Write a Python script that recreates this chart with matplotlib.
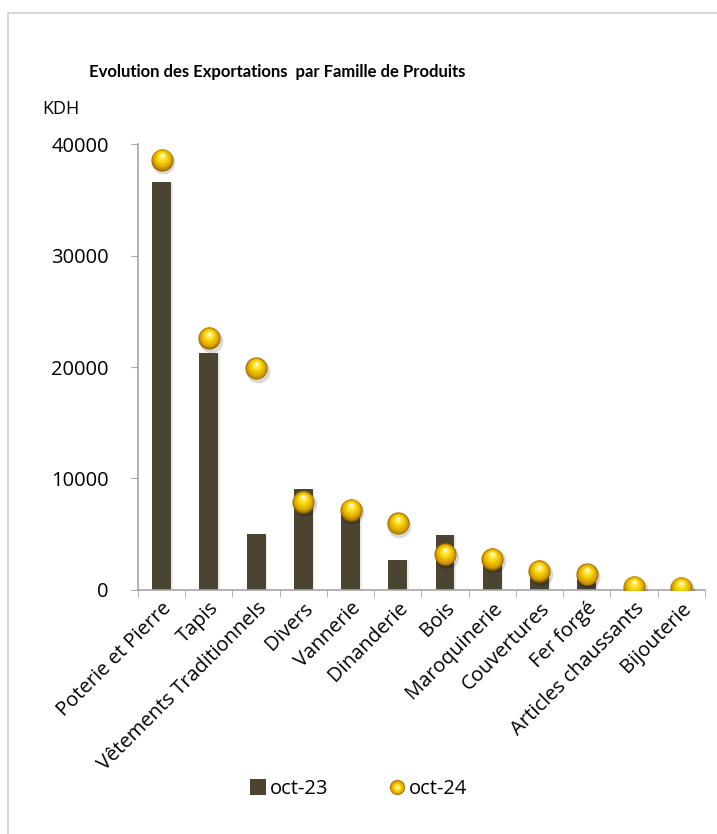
import matplotlib
matplotlib.use("Agg")
import matplotlib.pyplot as plt
import matplotlib.transforms as mtransforms
from matplotlib.lines import Line2D
from matplotlib.legend_handler import HandlerTuple
from matplotlib.patches import Rectangle
import numpy as np

plt.rcParams['font.family'] = ['Open Sans', 'DejaVu Sans']

categories = ["Poterie et Pierre", "Tapis", "Vêtements Traditionnels", "Divers",
              "Vannerie", "Dinanderie", "Bois", "Maroquinerie", "Couvertures",
              "Fer forgé", "Articles chaussants", "Bijouterie"]
oct23 = [36600, 21300, 5000, 9100, 7000, 2700, 4900, 2500, 1300, 1000, 150, 100]
oct24 = [38600, 22600, 19900, 7900, 7200, 6000, 3200, 2800, 1700, 1400, 300, 200]
yticks = [0, 10000, 20000, 30000, 40000]

bar_color = '#4B4430'
axis_color = '#A6A6A6'

fig = plt.figure(figsize=(7.17, 8.34), dpi=100)
ax = fig.add_axes([0.1925, 0.2926, 0.7905, 0.5347])

# light frame around the chart
fig.patches.append(Rectangle((8 / 717, -0.1), 1.2, 0.1 + (834 - 13) / 834,
                             transform=fig.transFigure, fill=False,
                             edgecolor='#D0D0D0', linewidth=1.2, zorder=0))

x = np.arange(len(categories))

# bar shadow + bars
shadow = mtransforms.offset_copy(ax.transData, fig, x=1.2, y=-0.8, units='points')
ax.bar(x, oct23, width=0.4, color='#000000', alpha=0.08, transform=shadow, zorder=1)
ax.bar(x, oct23, width=0.4, color=bar_color, zorder=2, label='oct-23')

# golden spheres
ms = 16
sh = mtransforms.offset_copy(ax.transData, fig, x=1.2, y=-1.8, units='points')
ax.plot(x, oct24, 'o', ms=ms + 1, color='#000000', alpha=0.15, mew=0, transform=sh, zorder=3)
layers = [(1.00, '#A06E00', 0.0), (0.92, '#C89200', 0.4), (0.80, '#E0AC00', 0.9),
          (0.66, '#EFC200', 1.4), (0.50, '#F8D818', 1.9), (0.34, '#FFE84A', 2.5),
          (0.18, '#FFF6B0', 3.2), (0.08, '#FFFFFF', 3.6)]
for frac, col, dy in layers:
    tr = mtransforms.offset_copy(ax.transData, fig, x=0, y=dy, units='points')
    ax.plot(x, oct24, 'o', ms=ms * frac, color=col, mew=0, transform=tr, zorder=4)

ax.set_xlim(-0.5, len(categories) - 0.5)
ax.set_ylim(0, 40000)
ax.set_yticks(yticks)
ax.set_yticklabels([str(v) for v in yticks])
ax.set_xticks(x)
ax.set_xticklabels(categories, rotation=45, ha='right', va='top',
                   rotation_mode='anchor')
ax.set_xticks(np.arange(-0.5, len(categories)), minor=True)
ax.tick_params(axis='x', which='major', length=0, pad=6, labelsize=14.5, colors='black')
ax.tick_params(axis='x', which='minor', length=5, color=axis_color, direction='out')
ax.tick_params(axis='y', length=5, color=axis_color, pad=16, labelsize=14.5)

for s in ['top', 'right']:
    ax.spines[s].set_visible(False)
for s in ['left', 'bottom']:
    ax.spines[s].set_color(axis_color)
    ax.spines[s].set_linewidth(1.2)

fig.text(0.386, 0.9137, "Evolution des Exportations  par Famille de Produits",
         ha='center', va='center', fontsize=12, fontweight='bold',
         family=['Lato', 'DejaVu Sans'])
fig.text(0.085, 0.869, "KDH", ha='center', va='center', fontsize=13)

# legend
h_bar = Line2D([], [], marker='s', ls='', ms=11, color=bar_color, mew=0)
h_ball = tuple(Line2D([], [], marker='o', ls='', ms=11 * f, color=c, mew=0)
               for f, c, _ in layers)
fig.legend([h_bar, h_ball], ['oct-23', 'oct-24'],
           handler_map={tuple: HandlerTuple(ndivide=1, pad=0)},
           loc='center', bbox_to_anchor=(0.5, 0.054), ncol=2, frameon=False,
           fontsize=14.5, handlelength=0.8, handletextpad=0.2, columnspacing=3.0)

fig.savefig("out.png", dpi=100)
